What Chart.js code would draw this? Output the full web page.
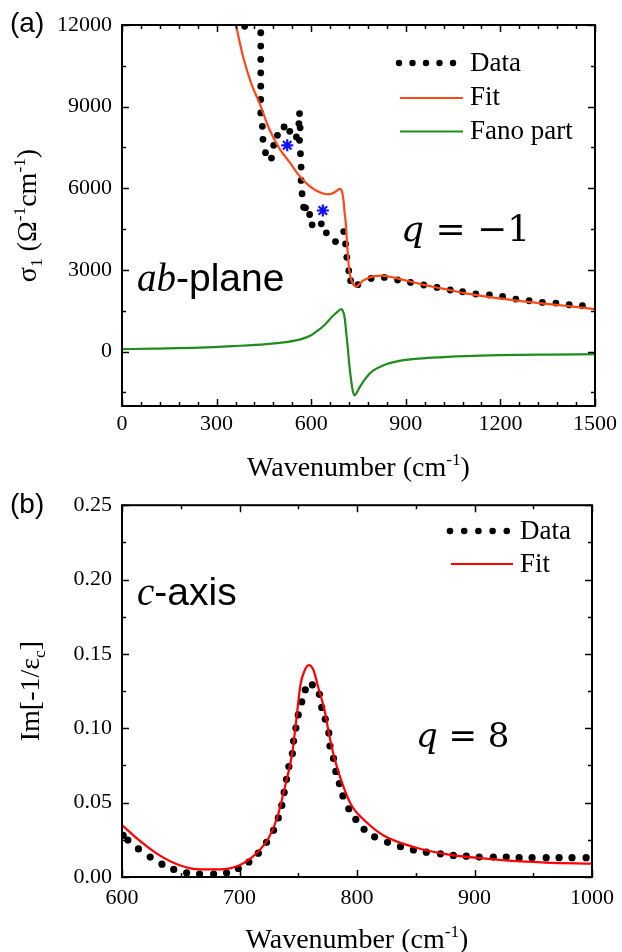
<!DOCTYPE html>
<html><head><meta charset="utf-8">
<script src="https://cdn.jsdelivr.net/npm/chart.js@4.4.1/dist/chart.umd.min.js"></script>
<style>
html,body{margin:0;padding:0;background:#fff;}
#wrap{position:relative;width:622px;height:952px;overflow:hidden;}
.box{position:absolute;left:0;width:622px;}
</style></head><body>
<div id="wrap">
<div class="box" style="top:0;height:482px"><canvas id="ca" width="622" height="482"></canvas></div>
<div class="box" style="top:482px;height:470px"><canvas id="cb" width="622" height="470"></canvas></div>
</div>
<script>
// ---------- (a) ab-plane optical conductivity ----------
const abDataWavenumber = [389,440,440,440,440,440,440,440,445,447,455,474,481,493,514,532,553,561,563,565,563,566,568,568,571,576,582,595,603,632,648,677,703,709,713,719,725,748,790,832,874,915,957,999,1041,1080,1122,1165,1207,1249,1291,1333,1376,1418,1460];
const abDataSigma      = [11950,11715,11225,10735,10242,9752,9262,8768,8278,7799,7309,7110,7578,7947,8252,8094,7884,8377,8746,8223,7762,7273,6780,6290,5800,5305,5283,5036,4657,4694,4362,4041,4410,3957,3463,2973,2605,2457,2689,2726,2630,2542,2446,2358,2262,2199,2115,2078,2026,1930,1868,1805,1783,1720,1684];
const abFitWavenumber  = [352,361,384,410,437,468,500,532,563,595,627,648,665,680,691,697,702,706,709,713,716,720,725,731,737,744,753,763,774,801,827,850,880,930,985,1040,1091,1145,1196,1250,1302,1355,1407,1455,1500];
const abFitSigma       = [12350,12000,10830,9850,9100,8150,7450,6950,6450,6080,5850,5780,5800,5900,5975,5900,5600,5100,4815,4100,3588,3050,2726,2520,2420,2390,2483,2600,2667,2770,2789,2750,2667,2530,2383,2260,2137,2040,1953,1875,1805,1742,1684,1620,1562];
const abFanoWavenumber = [0,100,247,350,458,520,563,600,616,640,669,685,695,700,706,711,716,721,727,732,737,745,753,770,795,830,880,930,985,1090,1196,1350,1500];
const abFanoSigma      = [88,110,147,200,272,350,440,600,730,950,1315,1480,1562,1500,1253,700,147,-500,-1079,-1450,-1606,-1500,-1326,-1020,-711,-500,-343,-270,-221,-165,-133,-110,-96];
const abStarWavenumber = [524,637];
const abStarSigma      = [7580,5184];
const abXTicks = [0,300,600,900,1200,1500];
const abXMinor = [60,120,180,240,360,420,480,540,660,720,780,840,960,1020,1080,1140,1260,1320,1380,1440];
const abYTicks = [0,3000,6000,9000,12000];
const abYMinor = [-1500,1500,4500,7500,10500];

// ---------- (b) c-axis loss function ----------
const cDataWavenumber = [601,605,614,624,634,644,655,666,678,689,699,708,716,723,729,733,736,738,740,742,745,746,748,750,753,756,762,768,770,773,776,777,780,782,785,788,793,799,806,815,826,837,848,859,871,882,893,904,916,927,938,949,961,972,983,995];
const cDataLoss       = [0.028,0.0248,0.0189,0.0134,0.0086,0.0051,0.0028,0.002,0.002,0.0028,0.0057,0.0101,0.016,0.0233,0.0314,0.0397,0.0481,0.0569,0.0657,0.0743,0.083,0.0914,0.1002,0.109,0.1178,0.1259,0.1292,0.1228,0.114,0.1061,0.0969,0.0881,0.0797,0.071,0.0628,0.0545,0.0459,0.0387,0.0321,0.027,0.0233,0.0204,0.0182,0.0167,0.0156,0.0145,0.014,0.0134,0.0134,0.0134,0.013,0.013,0.013,0.013,0.013,0.013];
const cFitWavenumber  = [600,615,632,649,666,683,700,714,725,732,739,745,748,752,755,759,763,767,773,776,781,787,795,807,823,849,877,919,961,1000];
const cFitLoss        = [0.0349,0.0244,0.0145,0.0079,0.0051,0.0051,0.0079,0.0156,0.0266,0.0397,0.0617,0.0837,0.1035,0.1298,0.138,0.1424,0.139,0.1276,0.11,0.0969,0.0793,0.0639,0.0486,0.0376,0.0277,0.02,0.0152,0.0117,0.0097,0.009];
const cXTicks = [600,700,800,900,1000];
const cXMinor = [650,750,850,950];
const cYTicks = [0,0.05,0.10,0.15,0.20,0.25];
const cYMinor = [0.025,0.075,0.125,0.175,0.225];

const SERIF = "'Liberation Serif','Times New Roman',serif";
const SANS  = "'Liberation Sans',Arial,sans-serif";
const MATH  = "'DejaVu Serif',serif";
const FIT_A = 'rgb(255,72,20)';
const FANO  = 'rgb(30,140,30)';
const FIT_C = 'rgb(255,0,0)';

const pts = (xs, ys) => xs.map((x, i) => ({x, y: ys[i]}));

function richText(ctx, parts, cx, cy, rot, size, family) {
  ctx.save();
  ctx.translate(cx, cy); ctx.rotate(rot);
  const small = size * 0.62;
  const widths = parts.map(([t, mode]) => { ctx.font = `${mode ? small : size}px ${family}`; return ctx.measureText(t).width; });
  let x = -widths.reduce((a, b) => a + b, 0) / 2;
  ctx.textAlign = 'left'; ctx.textBaseline = 'alphabetic'; ctx.fillStyle = '#000';
  const base = size * 0.33;
  parts.forEach(([t, mode], i) => {
    ctx.font = `${mode ? small : size}px ${family}`;
    const dy = mode === 1 ? -size * 0.40 : (mode === -1 ? size * 0.20 : 0);
    ctx.fillText(t, x, base + dy);
    x += widths[i];
  });
  ctx.restore();
}
function segs(ctx, x, y, list) {
  ctx.save(); ctx.textAlign = 'left'; ctx.textBaseline = 'alphabetic'; ctx.fillStyle = '#000';
  list.forEach(([t, f]) => { ctx.font = f; ctx.fillText(t, x, y); x += ctx.measureText(t).width; });
  ctx.restore();
}

const frameTicks = {
  id: 'frameTicks',
  afterDatasetsDraw(chart, args, o) {
    const {ctx, chartArea: a, scales: {x, y}} = chart;
    ctx.save();
    ctx.strokeStyle = '#000'; ctx.lineWidth = 1.5;
    ctx.beginPath();
    const seg = (x1, y1, x2, y2) => { ctx.moveTo(x1, y1); ctx.lineTo(x2, y2); };
    const doX = (vals, L) => vals.forEach(v => { const p = Math.round(x.getPixelForValue(v)) + 0.5; seg(p, a.bottom, p, a.bottom - L); seg(p, a.top, p, a.top + L); });
    const doY = (vals, L) => vals.forEach(v => { const p = Math.round(y.getPixelForValue(v)) + 0.5; seg(a.left, p, a.left + L, p); seg(a.right, p, a.right - L, p); });
    doX(o.xMajor, 7); doX(o.xMinor, 4); doY(o.yMajor, 7); doY(o.yMinor, 4);
    ctx.stroke();
    ctx.lineWidth = 2;
    ctx.strokeRect(a.left, a.top, a.right - a.left, a.bottom - a.top);
    ctx.restore();
  },
  afterDraw(chart, args, o) { o.extra(chart.ctx, chart.chartArea); }
};

function makeChart(id, datasets, cfg) {
  return new Chart(document.getElementById(id), {
    type: 'scatter',
    data: {datasets},
    plugins: [frameTicks],
    options: {
      responsive: false, animation: false, devicePixelRatio: 1, events: [],
      layout: {padding: {left: 0, right: 26, top: cfg.top, bottom: 0}},
      plugins: {legend: {display: false}, tooltip: {enabled: false},
        frameTicks: {xMajor: cfg.xTicks, xMinor: cfg.xMinor, yMajor: cfg.yTicks, yMinor: cfg.yMinor, extra: cfg.extra}},
      scales: {
        x: {type: 'linear', min: cfg.xMin, max: cfg.xMax,
            grid: {display: false, drawTicks: false}, border: {display: false},
            afterBuildTicks: s => { s.ticks = cfg.xTicks.map(v => ({value: v})); },
            afterFit: s => { s.height = cfg.xH; },
            ticks: {autoSkip: false, maxRotation: 0, padding: cfg.xPad, color: '#000',
                    font: {family: SERIF, size: 22}, callback: v => String(v)}},
        y: {type: 'linear', min: cfg.yMin, max: cfg.yMax,
            grid: {display: false, drawTicks: false}, border: {display: false},
            afterBuildTicks: s => { s.ticks = cfg.yTicks.map(v => ({value: v})); },
            afterFit: s => { s.width = 122; },
            ticks: {autoSkip: false, padding: 10, color: '#000',
                    font: {family: SERIF, size: 22}, callback: cfg.yFmt}}
      }
    }
  });
}

const line = (label, data, color) => ({label, data, showLine: true, borderColor: color, borderWidth: 2.2,
  pointRadius: 0, cubicInterpolationMode: 'monotone', fill: false});
const dots = (label, data, r) => ({label, data, showLine: false, pointRadius: r, pointBackgroundColor: '#000',
  pointBorderWidth: 0, backgroundColor: '#000', borderColor: '#000'});

// ---- chart (a)
makeChart('ca', [
  {...line('Fit', pts(abFitWavenumber, abFitSigma), FIT_A), order: 1},
  {...line('Fano part', pts(abFanoWavenumber, abFanoSigma), FANO), order: 2},
  {...dots('Data', pts(abDataWavenumber, abDataSigma), 3.4), order: 3},
  {label: 'phonon', data: pts(abStarWavenumber, abStarSigma), showLine: false, pointStyle: 'star',
   pointRadius: 6, pointBorderColor: '#1010ff', pointBorderWidth: 2.2, order: 0}
], {
  top: 25, xH: 76, xPad: 5, xMin: 0, xMax: 1500, yMin: -2000, yMax: 12000,
  xTicks: abXTicks, xMinor: abXMinor, yTicks: abYTicks, yMinor: abYMinor,
  yFmt: v => String(v),
  extra(ctx, a) {
    richText(ctx, [['Wavenumber (cm', 0], ['-1', 1], [')', 0]], (a.left + a.right) / 2, 467, 0, 28, SERIF);
    richText(ctx, [['σ', 0], ['1', -1], [' (Ω', 0], ['-1', 1], ['cm', 0], ['-1', 1], [')', 0]], 27, (a.top + a.bottom) / 2, -Math.PI / 2, 28, SERIF);
    // legend
    ctx.save();
    ctx.fillStyle = '#000';
    for (let i = 0; i < 5; i++) { ctx.beginPath(); ctx.arc(399 + i * 13.5, 63, 3.2, 0, Math.PI * 2); ctx.fill(); }
    ctx.lineWidth = 2;
    ctx.strokeStyle = FIT_A; ctx.beginPath(); ctx.moveTo(400, 98); ctx.lineTo(463, 98); ctx.stroke();
    ctx.strokeStyle = FANO; ctx.beginPath(); ctx.moveTo(400, 131.5); ctx.lineTo(463, 131.5); ctx.stroke();
    ctx.font = `27px ${SERIF}`; ctx.textBaseline = 'middle'; ctx.textAlign = 'left';
    ctx.fillText('Data', 470, 64); ctx.fillText('Fit', 470, 98); ctx.fillText('Fano part', 470, 132);
    ctx.font = `28px ${SANS}`; ctx.fillText('(a)', 10, 24);
    ctx.restore();
    segs(ctx, 137, 291, [['ab', `italic 39px ${SERIF}`], ['-plane', `39px ${SANS}`]]);
    segs(ctx, 401, 241, [['q', `italic 36px ${MATH}`], [' = −1', `36px ${MATH}`]]);
  }
});

// ---- chart (b)
makeChart('cb', [
  {...line('Fit', pts(cFitWavenumber, cFitLoss), FIT_C), order: 1},
  {...dots('Data', pts(cDataWavenumber, cDataLoss), 3.6), order: 2}
], {
  top: 15, xH: 75, xPad: 8, xMin: 600, xMax: 1000, yMin: 0, yMax: 0.25,
  xTicks: cXTicks, xMinor: cXMinor, yTicks: cYTicks, yMinor: cYMinor,
  yFmt: v => v.toFixed(2),
  extra(ctx, a) {
    richText(ctx, [['Wavenumber (cm', 0], ['-1', 1], [')', 0]], (a.left + a.right) / 2, 457, 0, 28, SERIF);
    richText(ctx, [['Im[-1/ε', 0], ['c', -1], [']', 0]], 30, (a.top + a.bottom) / 2, -Math.PI / 2, 28, SERIF);
    ctx.save();
    ctx.fillStyle = '#000';
    for (let i = 0; i < 5; i++) { ctx.beginPath(); ctx.arc(450 + i * 14.2, 49, 3.3, 0, Math.PI * 2); ctx.fill(); }
    ctx.lineWidth = 2; ctx.strokeStyle = FIT_C;
    ctx.beginPath(); ctx.moveTo(451, 82); ctx.lineTo(513, 82); ctx.stroke();
    ctx.font = `27px ${SERIF}`; ctx.textBaseline = 'middle'; ctx.textAlign = 'left';
    ctx.fillText('Data', 520, 50); ctx.fillText('Fit', 520, 83);
    ctx.font = `28px ${SANS}`; ctx.fillText('(b)', 10, 23);
    ctx.restore();
    segs(ctx, 137, 123, [['c', `italic 39px ${SERIF}`], ['-axis', `39px ${SANS}`]]);
    segs(ctx, 416, 265, [['q', `italic 34px ${MATH}`], [' = 8', `34px ${MATH}`]]);
  }
});
</script>
</body></html>
